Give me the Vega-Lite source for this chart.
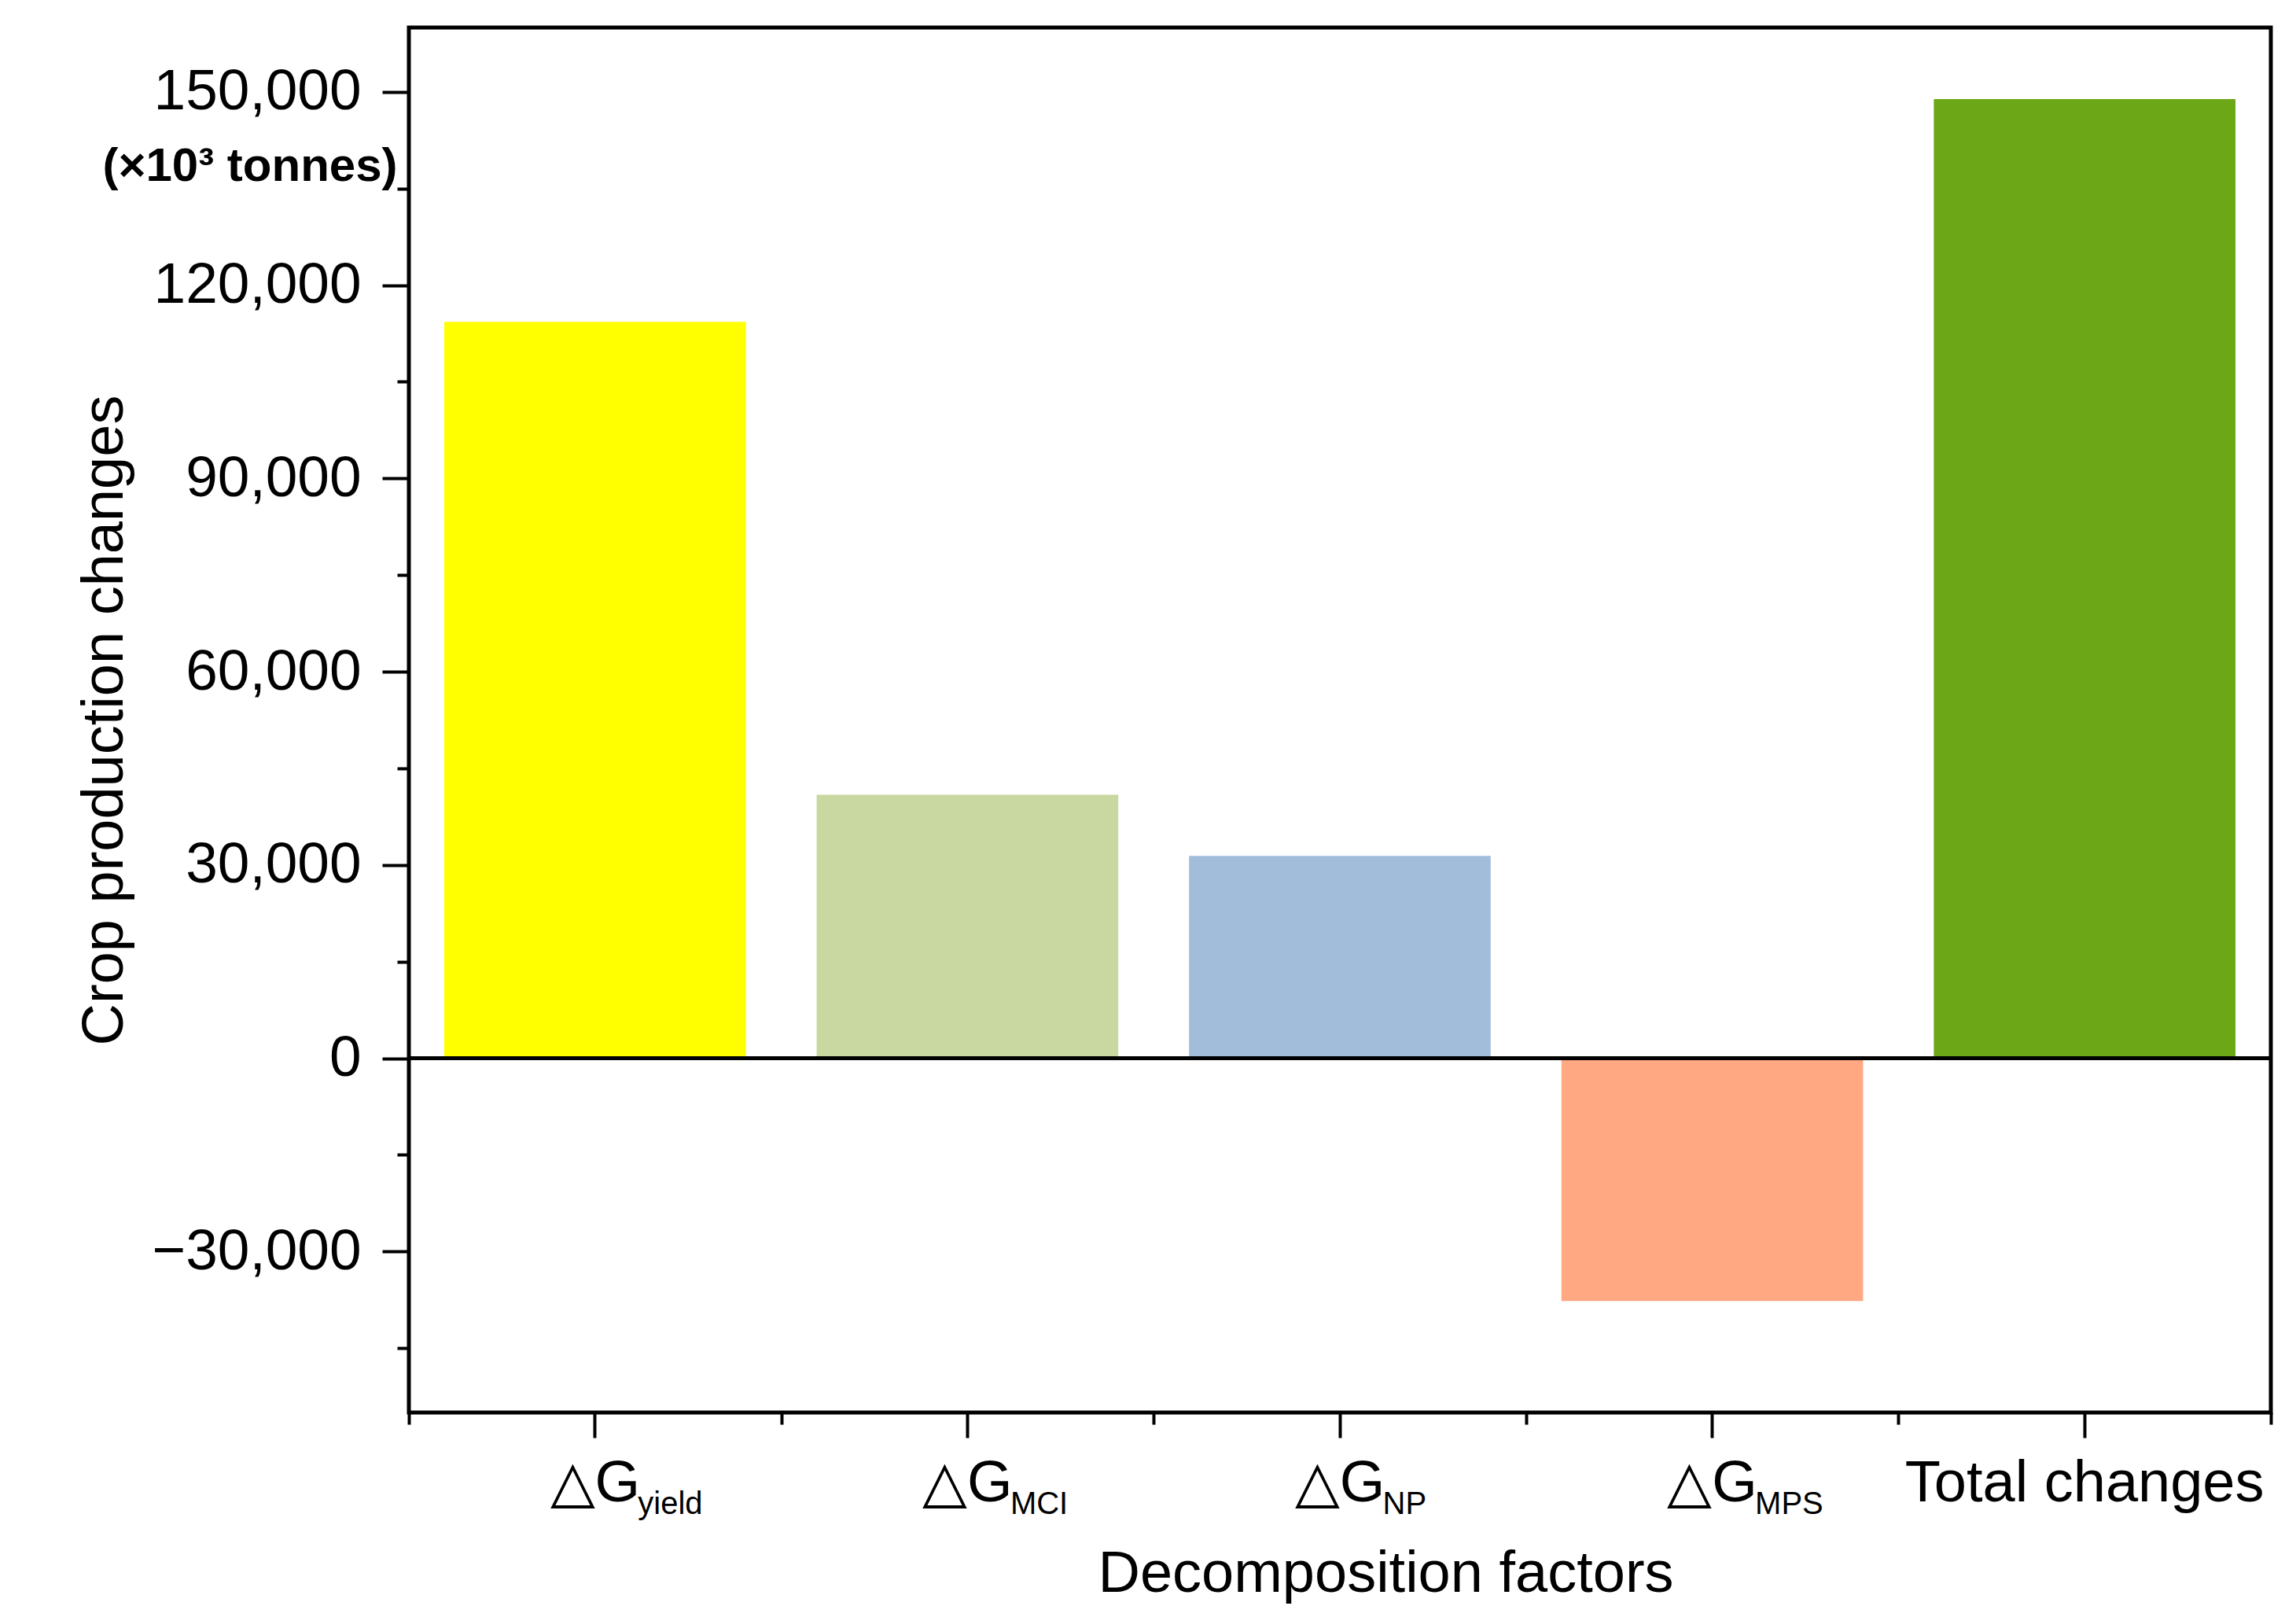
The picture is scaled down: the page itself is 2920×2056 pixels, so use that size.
{
  "$schema": "https://vega.github.io/schema/vega-lite/v6.json",
  "autosize": {"type": "none"},
  "width": 2368,
  "height": 1761,
  "padding": {"left": 520, "top": 35, "right": 32, "bottom": 260},
  "background": "white",
  "config": {
    "view": {"stroke": "black", "strokeWidth": 5},
    "font": "Liberation Sans",
    "axis": {"labelColor": "black", "titleColor": "black", "tickColor": "black", "grid": false, "domain": false, "labelOverlap": false, "labelBound": false, "labelFlush": false, "labelLimit": 2000}
  },
  "data": {
    "values": [
      {"factor": "yield", "value": 114300},
      {"factor": "MCI", "value": 40900},
      {"factor": "NP", "value": 31400},
      {"factor": "MPS", "value": -37700},
      {"factor": "Total changes", "value": 148900}
    ]
  },
  "resolve": {"scale": {"x": "independent"}, "axis": {"x": "independent", "y": "independent"}},
  "layer": [
    {
      "mark": {"type": "bar"},
      "encoding": {
        "x": {
          "field": "factor", "type": "nominal", "sort": null,
          "scale": {"paddingInner": 0.19, "paddingOuter": 0.095},
          "axis": {
            "orient": "bottom",
            "labelExpr": "datum.value == 'Total changes' ? datum.value : '△G'",
            "labelAngle": 0,
            "tickSize": 32, "tickWidth": 4,
            "labelFontSize": 74, "labelPadding": 22, "labelLimit": 2000,
            "title": "Decomposition factors",
            "titleFontSize": 74, "titleFontWeight": "normal", "titlePadding": 42,
            "titleX": 1242, "titleAlign": "center"
          }
        },
        "y": {
          "field": "value", "type": "quantitative",
          "scale": {"domain": [-55000, 160000], "nice": false, "zero": false},
          "axis": {
            "orient": "left",
            "values": [-30000, 0, 30000, 60000, 90000, 120000, 150000],
            "labelExpr": "format(datum.value, ',')",
            "tickSize": 34, "tickWidth": 4,
            "labelFontSize": 73, "labelPadding": 27, "labelLimit": 2000,
            "title": "Crop production changes",
            "titleFontSize": 74, "titleFontWeight": "normal",
            "titleX": -349, "titleY": 880.5, "titleAngle": -90, "titleBaseline": "bottom", "titleAlign": "center"
          }
        },
        "color": {
          "field": "factor", "type": "nominal", "legend": null,
          "scale": {
            "domain": ["yield", "MCI", "NP", "MPS", "Total changes"],
            "range": ["#FFFF00", "#C9D8A0", "#A1BDD9", "#FFA882", "#6BA716"]
          }
        }
      }
    },
    {
      "mark": {"type": "bar", "opacity": 0},
      "encoding": {
        "x": {
          "field": "factor", "type": "nominal", "sort": null,
          "scale": {"paddingInner": 0, "paddingOuter": 0},
          "axis": {
            "orient": "bottom",
            "tickBand": "extent",
            "labelExpr": "datum.value == 'Total changes' ? '' : datum.value",
            "labelAngle": 0,
            "labelAlign": "left",
            "labelOffset": 54,
            "tickSize": 15, "tickWidth": 4,
            "labelFontSize": 40, "labelPadding": 81, "labelLimit": 2000,
            "title": null
          }
        },
        "y": {
          "field": "value", "type": "quantitative",
          "axis": {
            "orient": "left",
            "values": [-45000, -15000, 15000, 45000, 75000, 105000, 135000, 138400],
            "labelExpr": "datum.value == 138400 ? '(×10³ tonnes)' : ''",
            "tickOpacity": {"condition": {"test": "datum.value == 138400", "value": 0}, "value": 1},
            "tickSize": 15, "tickWidth": 4,
            "labelFontSize": 60, "labelFontWeight": "bold", "labelPadding": 0, "labelLimit": 2000,
            "title": null
          }
        }
      }
    },
    {
      "data": {"values": [{"zero": 0}]},
      "mark": {"type": "rule", "color": "black", "strokeWidth": 5},
      "encoding": {
        "y": {"field": "zero", "type": "quantitative", "axis": null}
      }
    }
  ]
}
